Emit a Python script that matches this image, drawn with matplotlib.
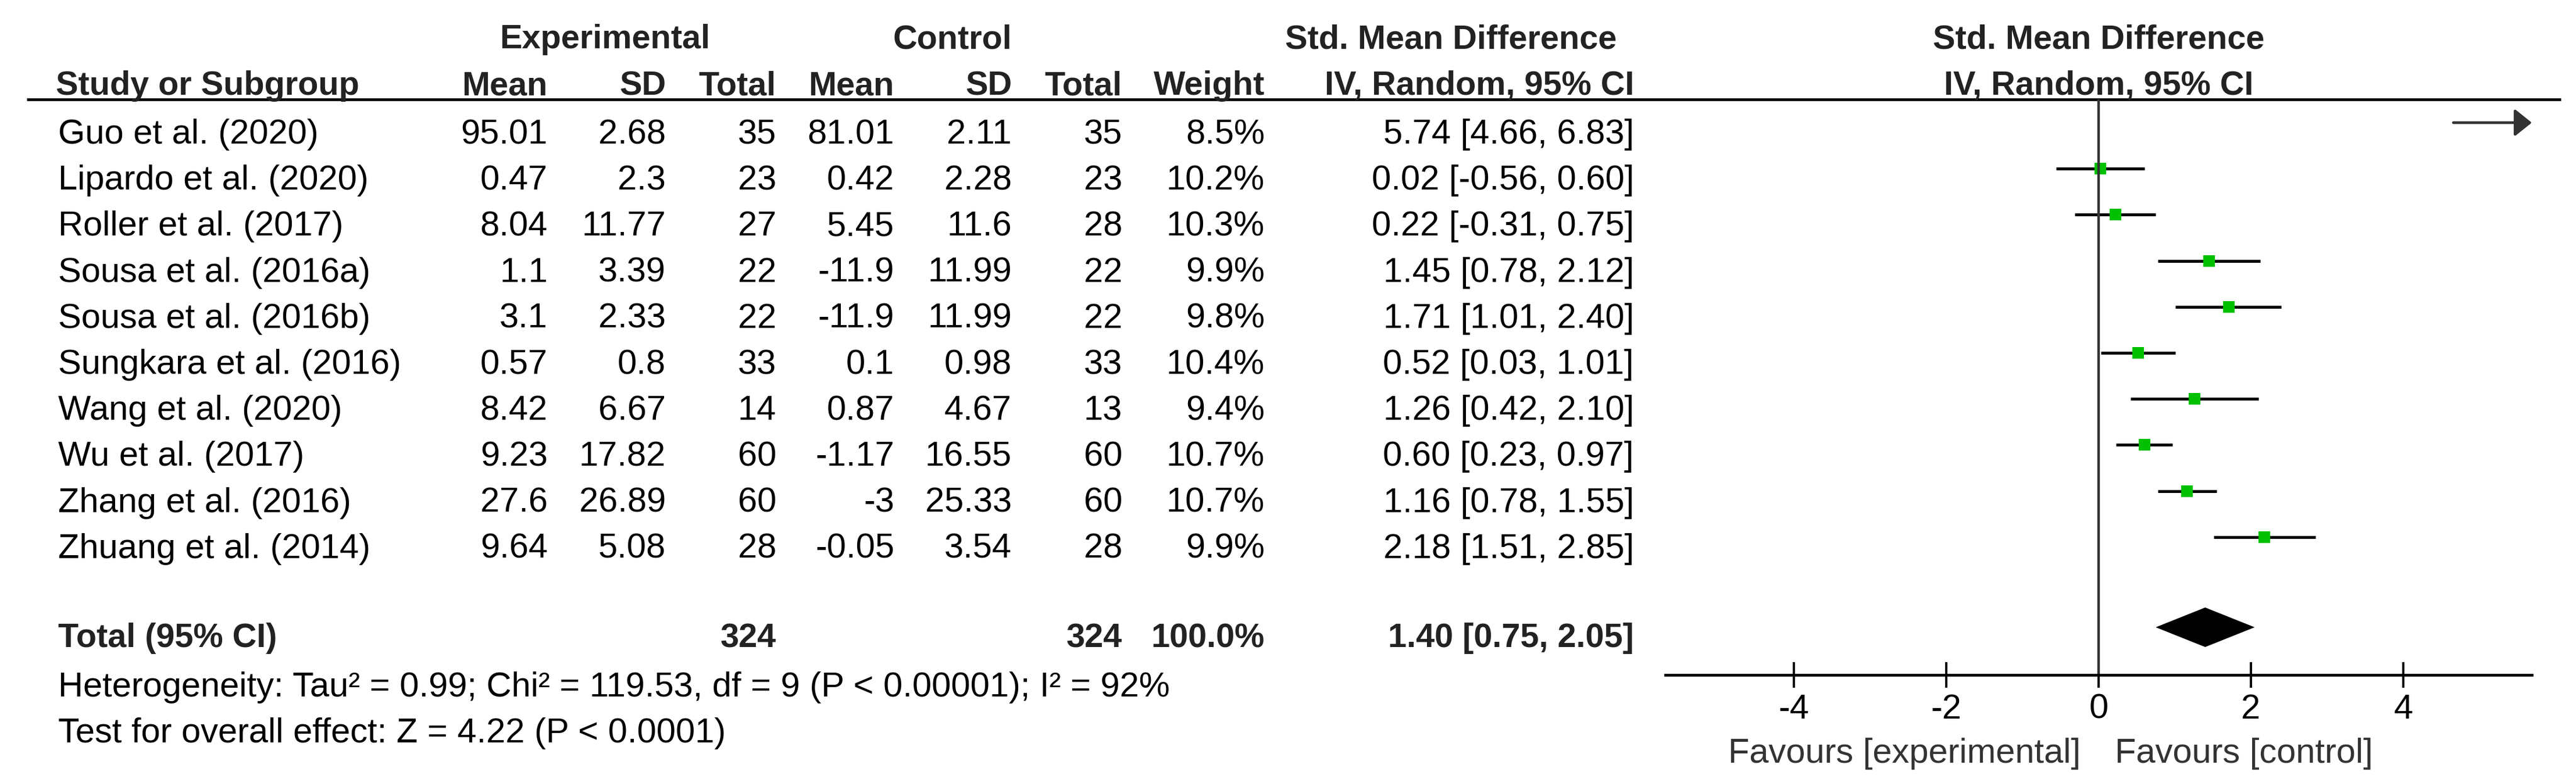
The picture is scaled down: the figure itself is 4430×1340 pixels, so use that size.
import matplotlib.pyplot as plt
from matplotlib.patches import Polygon

plt.rcParams['font.family'] = ['Liberation Sans', 'DejaVu Sans']
plt.rcParams['axes.unicode_minus'] = False

# ---- data ----
studies = ['Guo et al. (2020)', 'Lipardo et al. (2020)', 'Roller et al. (2017)',
           'Sousa et al. (2016a)', 'Sousa et al. (2016b)', 'Sungkara et al. (2016)',
           'Wang et al. (2020)', 'Wu et al. (2017)', 'Zhang et al. (2016)',
           'Zhuang et al. (2014)']
exp_mean = [95.01, 0.47, 8.04, 1.1, 3.1, 0.57, 8.42, 9.23, 27.6, 9.64]
exp_sd = [2.68, 2.3, 11.77, 3.39, 2.33, 0.8, 6.67, 17.82, 26.89, 5.08]
exp_n = [35, 23, 27, 22, 22, 33, 14, 60, 60, 28]
ctl_mean = [81.01, 0.42, 5.45, -11.9, -11.9, 0.1, 0.87, -1.17, -3, -0.05]
ctl_sd = [2.11, 2.28, 11.6, 11.99, 11.99, 0.98, 4.67, 16.55, 25.33, 3.54]
ctl_n = [35, 23, 28, 22, 22, 33, 13, 60, 60, 28]
weight = [8.5, 10.2, 10.3, 9.9, 9.8, 10.4, 9.4, 10.7, 10.7, 9.9]
smd = [5.74, 0.02, 0.22, 1.45, 1.71, 0.52, 1.26, 0.60, 1.16, 2.18]
ci_lo = [4.66, -0.56, -0.31, 0.78, 1.01, 0.03, 0.42, 0.23, 0.78, 1.51]
ci_hi = [6.83, 0.60, 0.75, 2.12, 2.40, 1.01, 2.10, 0.97, 1.55, 2.85]

total_exp_n = 324
total_ctl_n = 324
total_weight = 100.0
total_smd, total_lo, total_hi = 1.40, 0.75, 2.05
het_text = 'Heterogeneity: Tau² = 0.99; Chi² = 119.53, df = 9 (P < 0.00001); I² = 92%'
test_text = 'Test for overall effect: Z = 4.22 (P < 0.0001)'
ticks = [-4, -2, 0, 2, 4]
x_lim = 5.69

# ---- layout (pixels of the 4430 x 1340 picture) ----
W, H = 4430, 1340
FS_B = 41.5     # bold text
FS_R = 42.9     # regular text (reference renders it a bit wider)
BOLD_C = '#222222'
col_right = {'em': 942, 'esd': 1145, 'en': 1335, 'cm': 1538, 'csd': 1740,
             'cn': 1930, 'w': 2175, 'ci': 2810}
row0, step = 247, 79.2
mark_off = 36
total_y = 1113
axis_y = 1161
line_y = 171
fp_left, fp_right = 2864, 4354

fig = plt.figure(figsize=(W / 100, H / 100), dpi=100)
tab = fig.add_axes([0, 0, 1, 1])
tab.set_xlim(0, W)
tab.set_ylim(H, 0)
tab.axis('off')

fp = fig.add_axes([fp_left / W, 0, (fp_right - fp_left) / W, 1])
fp.set_xlim(-x_lim, x_lim)
fp.set_ylim(H, 0)
fp.patch.set_alpha(0)
for s in ['top', 'left', 'right']:
    fp.spines[s].set_visible(False)
fp.spines['bottom'].set_position(('data', axis_y))
fp.spines['bottom'].set_linewidth(3.4)
fp.set_yticks([])
fp.set_xticks(ticks)
fp.set_xticklabels([str(t) for t in ticks])
fp.tick_params(axis='x', direction='inout', length=31.5, width=2.8,
               pad=7, labelsize=FS_R, colors='black')


def txt(x, y, s, ha='right', bold=False, ax=tab, color=None):
    ax.text(x, y, s, ha=ha, va='baseline', fontsize=FS_B if bold else FS_R,
            fontweight='bold' if bold else 'normal',
            color=color or (BOLD_C if bold else 'black'))


def fmt(v):
    return f'{v:g}'


# headers
txt(1040, 83, 'Experimental', ha='center', bold=True)
txt(1638, 83, 'Control', ha='center', bold=True)
txt(2495, 83, 'Std. Mean Difference', ha='center', bold=True)
txt(0, 83, 'Std. Mean Difference', ha='center', bold=True, ax=fp)
txt(96, 163, 'Study or Subgroup', ha='left', bold=True)
for key, lab in [('em', 'Mean'), ('esd', 'SD'), ('en', 'Total'), ('cm', 'Mean'),
                 ('csd', 'SD'), ('cn', 'Total'), ('w', 'Weight'),
                 ('ci', 'IV, Random, 95% CI')]:
    txt(col_right[key], 163, lab, bold=True)
txt(0, 163, 'IV, Random, 95% CI', ha='center', bold=True, ax=fp)
tab.plot([46, 4404], [line_y, line_y], color='black', lw=3.4,
         solid_capstyle='butt')

# study rows
for i, name in enumerate(studies):
    y = row0 + i * step
    txt(100, y, name, ha='left')
    txt(col_right['em'], y, fmt(exp_mean[i]))
    txt(col_right['esd'], y, fmt(exp_sd[i]))
    txt(col_right['en'], y, str(exp_n[i]))
    txt(col_right['cm'], y, fmt(ctl_mean[i]))
    txt(col_right['csd'], y, fmt(ctl_sd[i]))
    txt(col_right['cn'], y, str(ctl_n[i]))
    txt(col_right['w'], y, f'{weight[i]:.1f}%')
    txt(col_right['ci'], y, f'{smd[i]:.2f} [{ci_lo[i]:.2f}, {ci_hi[i]:.2f}]')

    ym = y - mark_off
    lo, hi = max(ci_lo[i], -x_lim), min(ci_hi[i], x_lim)
    if ci_hi[i] > x_lim:
        fp.annotate('', xy=(x_lim, ym), xytext=(lo, ym),
                    arrowprops=dict(arrowstyle='-|>,head_length=0.9,head_width=0.72',
                                    mutation_scale=20, lw=3.4, color='#333333',
                                    shrinkA=0, shrinkB=0),
                    annotation_clip=False)
    else:
        fp.plot([lo, hi], [ym, ym], color='black', lw=3.6, solid_capstyle='butt')
    if -x_lim < smd[i] < x_lim:
        side = 14.4 * (weight[i] / 9.9) ** 0.5
        fp.plot(smd[i], ym, marker='s', ms=side, color='#00c000', mew=0)

# total row
txt(100, total_y, 'Total (95% CI)', ha='left', bold=True)
txt(col_right['en'], total_y, str(total_exp_n), bold=True)
txt(col_right['cn'], total_y, str(total_ctl_n), bold=True)
txt(col_right['w'], total_y, f'{total_weight:.1f}%', bold=True)
txt(col_right['ci'], total_y, f'{total_smd:.2f} [{total_lo:.2f}, {total_hi:.2f}]',
    bold=True)
yc, hh = total_y - 34, 34
fp.add_patch(Polygon([(total_lo, yc), (total_smd, yc - hh), (total_hi, yc),
                      (total_smd, yc + hh)], closed=True, color='black', lw=0))

txt(100, 1198, het_text, ha='left')
txt(100, 1277, test_text, ha='left')

# zero line and favours labels
fp.plot([0, 0], [line_y, axis_y], color='#333333', lw=3.2, solid_capstyle='butt')
txt(3578, 1312, 'Favours [experimental]', ha='right', color='#333333')
txt(3637, 1312, 'Favours [control]', ha='left', color='#333333')

fig.savefig('out.png', dpi=100, facecolor='white')
